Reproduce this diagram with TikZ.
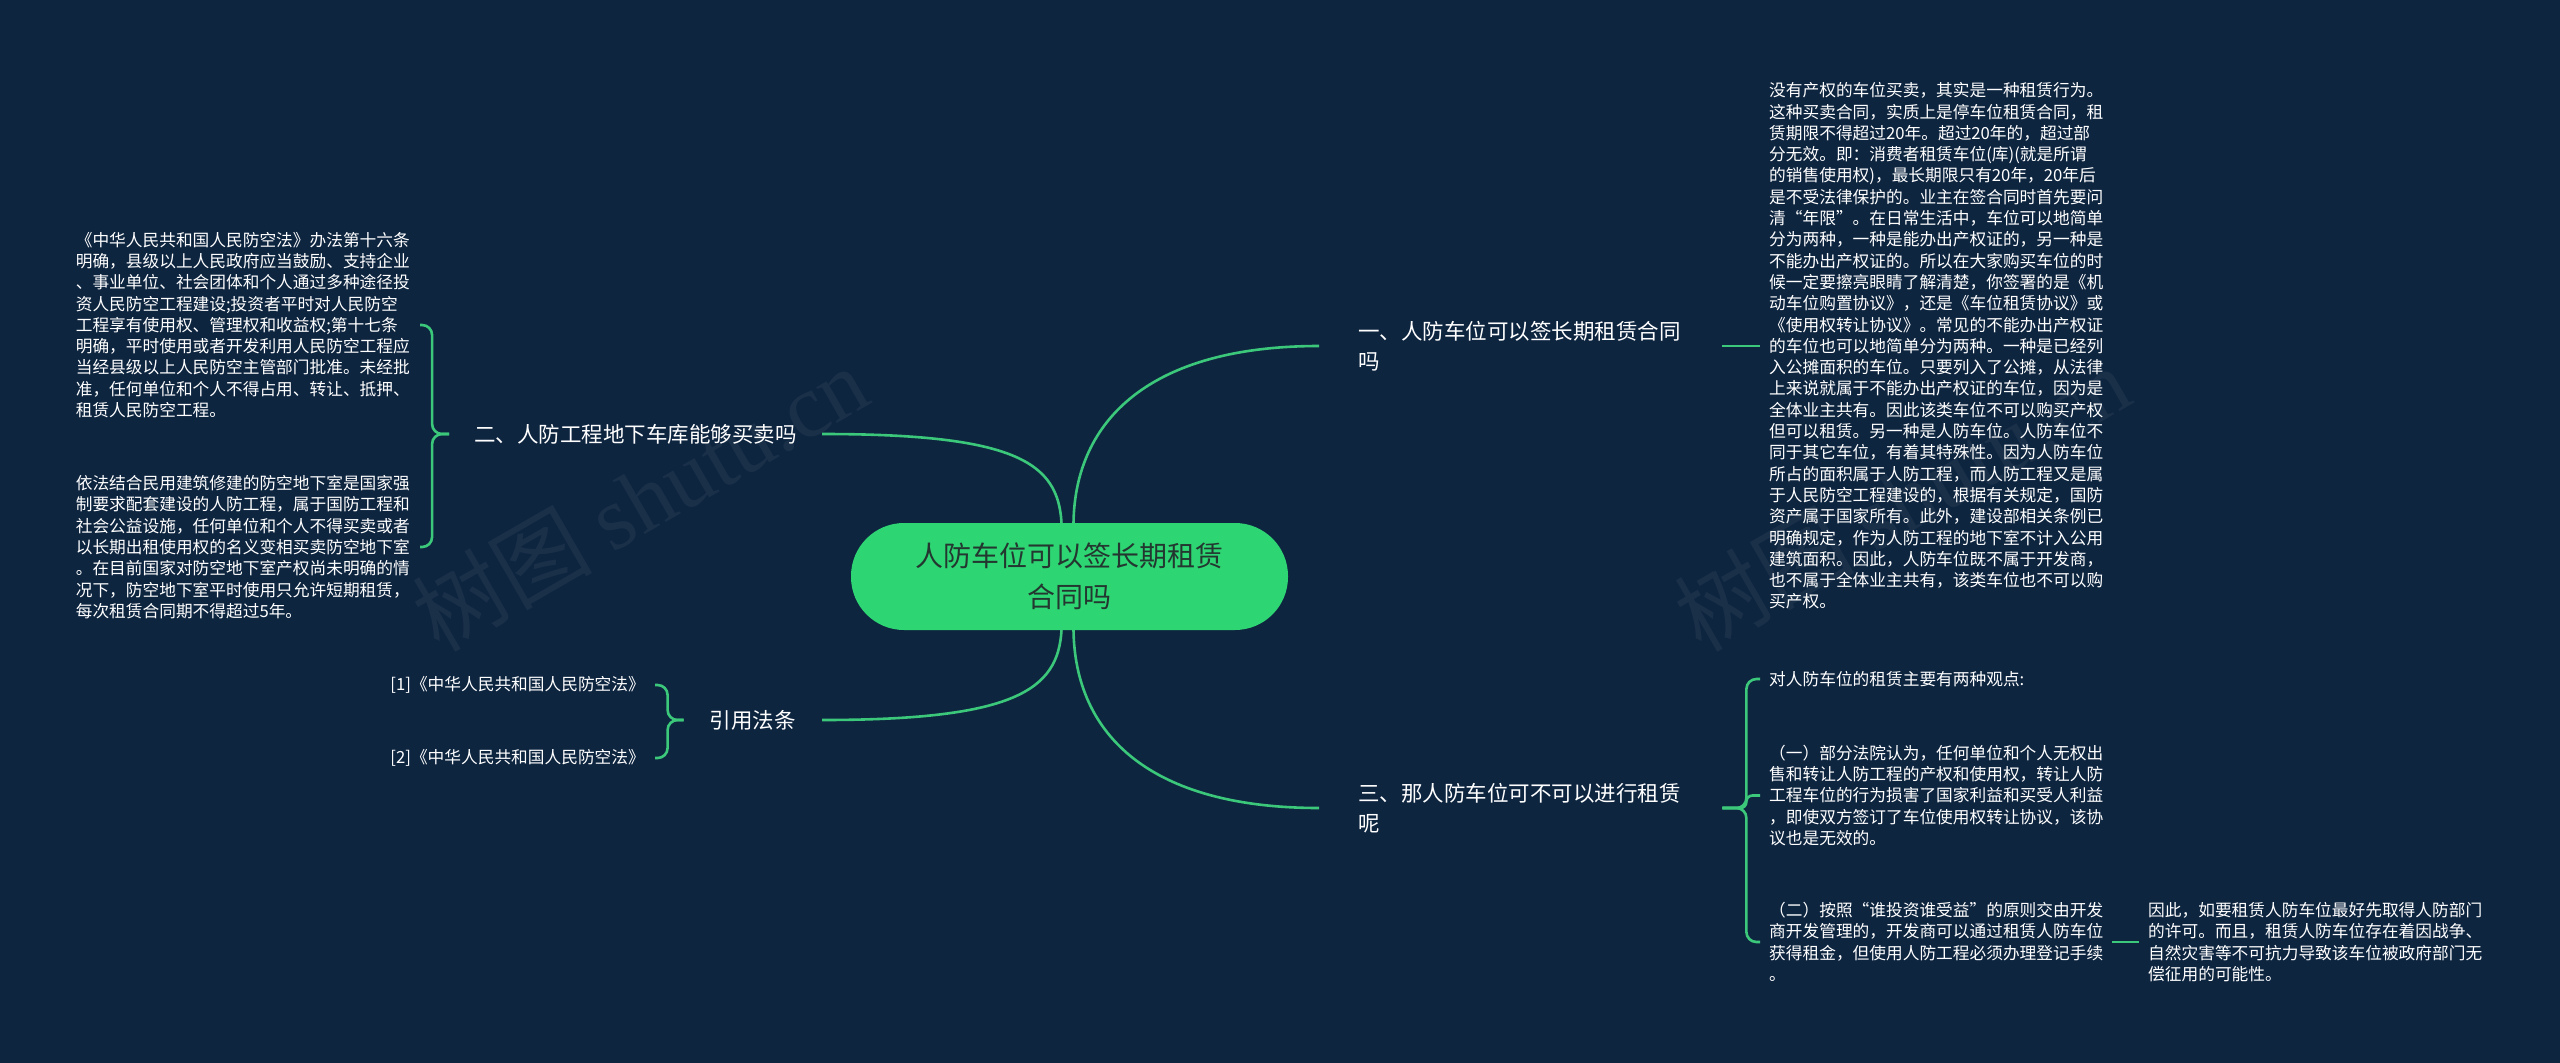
\documentclass[tikz,border=0pt]{standalone}
\usepackage{fontspec}
\setmainfont{Noto Sans CJK SC}
\newfontfamily\wmfont{Liberation Serif}
\usetikzlibrary{calc}
\definecolor{bg}{RGB}{14,37,64}
\definecolor{nodegreen}{RGB}{46,213,115}
\definecolor{linkgreen}{RGB}{60,200,122}
\definecolor{centertext}{RGB}{35,55,48}
\begin{document}
\begin{tikzpicture}[x=1pt,y=-1pt,
  link/.style={draw=linkgreen, line width=2.6pt},
  brace/.style={link, rounded corners=10pt},
  topic/.style={inner ysep=0pt, align=left, text=white, font=\fontsize{21.5}{29.5}\selectfont},
  body/.style={inner xsep=9pt, inner ysep=0pt, align=left, text=white, font=\fontsize{16.7}{21.3}\selectfont},
  watermark/.style={rotate=30, text=white, opacity=0.05, font=\fontsize{90}{90}\selectfont}]
\fill[bg] (0,0) rectangle (2560,1063);
\useasboundingbox (0,0) rectangle (2560,1063);

% watermarks
\node[watermark] (wm1) at (640,498) {树图 {\wmfont shutu.cn}};
\node[watermark] (wm2) at (1902,498) {树图 {\wmfont shutu.cn}};

% center
\node[fill=nodegreen, rounded corners=53pt, minimum width=437pt, minimum height=107pt,
  inner sep=0pt, text=centertext, align=center, font=\fontsize{28}{41}\selectfont]
  (c) at (1069.5,576.5) {人防车位可以签长期租赁\\合同吗};

% main topics
\node[topic, anchor=west, inner xsep=39pt, text width=325pt] (b1) at (1319,346) {一、人防车位可以签长期租赁合同\\吗};
\node[topic, anchor=west, inner xsep=39pt, text width=325pt] (b3) at (1319,808) {三、那人防车位可不可以进行租赁\\呢};
\node[topic, anchor=east, inner xsep=25pt] (b2) at (822,434) {二、人防工程地下车库能够买卖吗};
\node[topic, anchor=east, inner xsep=26pt] (b4) at (822,720) {引用法条};

% right details
\node[body, anchor=west] (r1) at (1760,346) {没有产权的车位买卖，其实是一种租赁行为。\\
这种买卖合同，实质上是停车位租赁合同，租\\
赁期限不得超过20年。超过20年的，超过部\\
分无效。即：消费者租赁车位(库)(就是所谓\\
的销售使用权)，最长期限只有20年，20年后\\
是不受法律保护的。业主在签合同时首先要问\\
清“年限”。在日常生活中，车位可以地简单\\
分为两种，一种是能办出产权证的，另一种是\\
不能办出产权证的。所以在大家购买车位的时\\
候一定要擦亮眼睛了解清楚，你签署的是《机\\
动车位购置协议》，还是《车位租赁协议》或\\
《使用权转让协议》。常见的不能办出产权证\\
的车位也可以地简单分为两种。一种是已经列\\
入公摊面积的车位。只要列入了公摊，从法律\\
上来说就属于不能办出产权证的车位，因为是\\
全体业主共有。因此该类车位不可以购买产权\\
但可以租赁。另一种是人防车位。人防车位不\\
同于其它车位，有着其特殊性。因为人防车位\\
所占的面积属于人防工程，而人防工程又是属\\
于人民防空工程建设的，根据有关规定，国防\\
资产属于国家所有。此外，建设部相关条例已\\
明确规定，作为人防工程的地下室不计入公用\\
建筑面积。因此，人防车位既不属于开发商，\\
也不属于全体业主共有，该类车位也不可以购\\
买产权。};

\node[body, anchor=west] (r3a) at (1760,679) {对人防车位的租赁主要有两种观点:};
\node[body, anchor=west] (r3b) at (1760,795.5) {（一）部分法院认为，任何单位和个人无权出\\
售和转让人防工程的产权和使用权，转让人防\\
工程车位的行为损害了国家利益和买受人利益\\
，即使双方签订了车位使用权转让协议，该协\\
议也是无效的。};
\node[body, anchor=west] (r3c) at (1760,942) {（二）按照“谁投资谁受益”的原则交由开发\\
商开发管理的，开发商可以通过租赁人防车位\\
获得租金，但使用人防工程必须办理登记手续\\
。};
\node[body, anchor=west] (r3d) at (2139,942) {因此，如要租赁人防车位最好先取得人防部门\\
的许可。而且，租赁人防车位存在着因战争、\\
自然灾害等不可抗力导致该车位被政府部门无\\
偿征用的可能性。};

% left details
\node[body, anchor=east, inner xsep=10pt] (l2a) at (420,325) {《中华人民共和国人民防空法》办法第十六条\\
明确，县级以上人民政府应当鼓励、支持企业\\
、事业单位、社会团体和个人通过多种途径投\\
资人民防空工程建设;投资者平时对人民防空\\
工程享有使用权、管理权和收益权;第十七条\\
明确，平时使用或者开发利用人民防空工程应\\
当经县级以上人民防空主管部门批准。未经批\\
准，任何单位和个人不得占用、转让、抵押、\\
租赁人民防空工程。};
\node[body, anchor=east, inner xsep=10pt] (l2b) at (420,547) {依法结合民用建筑修建的防空地下室是国家强\\
制要求配套建设的人防工程，属于国防工程和\\
社会公益设施，任何单位和个人不得买卖或者\\
以长期出租使用权的名义变相买卖防空地下室\\
。在目前国家对防空地下室产权尚未明确的情\\
况下，防空地下室平时使用只允许短期租赁，\\
每次租赁合同期不得超过5年。};
\node[body, anchor=east, inner xsep=10pt] (l4a) at (655,685) {[1]《中华人民共和国人民防空法》};
\node[body, anchor=east, inner xsep=10pt] (l4b) at (655,758) {[2]《中华人民共和国人民防空法》};

% connectors from center
\draw[link] ([xshift=4pt]c.north) .. controls (1075,420) and (1150,346) .. (b1.west);
\draw[link] ([xshift=-8pt]c.north) .. controls (1058,462) and (1015,434) .. (b2.east);
\draw[link] ([xshift=-8pt]c.south) .. controls (1058,690) and (1015,720) .. (b4.east);
\draw[link] ([xshift=4pt]c.south) .. controls (1075,735) and (1150,808) .. (b3.west);

% right connectors
\draw[link] (b1.east) -- (r1.west);
\draw[brace] (b3.east) -- ++(24,0) |- (r3a.west);
\draw[brace, rounded corners=6pt] (b3.east) -- ++(24,0) |- (r3b.west);
\draw[brace] (b3.east) -- ++(24,0) |- (r3c.west);
\draw[link] (r3c.east) -- (r3d.west);

% left connectors
\draw[brace] (b2.west) -- ++(-17,0) |- (l2a.east);
\draw[brace] (b2.west) -- ++(-17,0) |- (l2b.east);
\draw[brace] (b4.west) -- ++(-16,0) |- (l4a.east);
\draw[brace] (b4.west) -- ++(-16,0) |- (l4b.east);
\end{tikzpicture}
\end{document}
